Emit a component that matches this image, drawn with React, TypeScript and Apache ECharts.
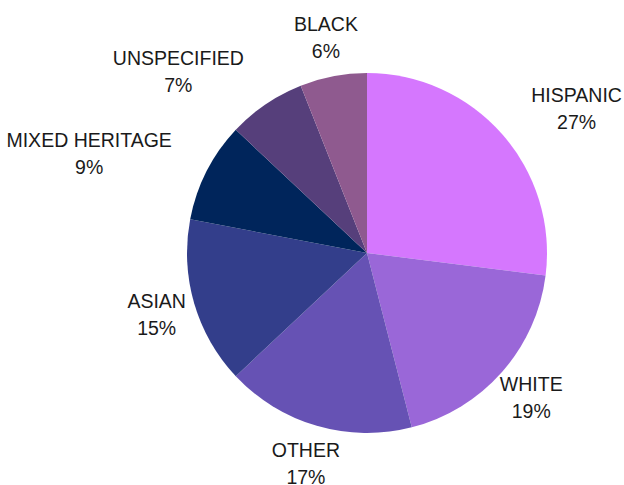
import React, { useEffect, useRef } from "react";
import * as echarts from "echarts";

const CATEGORIES = ["HISPANIC", "WHITE", "OTHER", "ASIAN", "MIXED HERITAGE", "UNSPECIFIED", "BLACK"];
const VALUES = [27, 19, 17, 15, 9, 7, 6];
const COLORS = ["#d577fe", "#9a67d8", "#6652b4", "#333e8b", "#00255b", "#563f7b", "#8f5a8f"];

const CX = 367;
const CY = 253;
const R = 180;
const LABEL_R = 219;

export default function App() {
  const ref = useRef<HTMLDivElement>(null);

  useEffect(() => {
    if (!ref.current) return;
    const chart = echarts.init(ref.current, null, { renderer: "svg" });
    const total = VALUES.reduce((a, b) => a + b, 0);

    const labelLayout = (params: any) => {
      const i = params.dataIndex;
      let cum = 0;
      for (let k = 0; k < i; k++) cum += VALUES[k];
      const mid = ((cum + VALUES[i] / 2) / total) * Math.PI * 2;
      const ax = CX + LABEL_R * Math.sin(mid);
      const ay = CY - LABEL_R * Math.cos(mid);
      const w = params.labelRect.width;
      const h = params.labelRect.height;
      const x0 = ax - w / 2, x1 = ax + w / 2, y0 = ay - h / 2, y1 = ay + h / 2;
      const nx = Math.min(Math.max(CX, x0), x1);
      const ny = Math.min(Math.max(CY, y0), y1);
      const d = Math.hypot(nx - CX, ny - CY);
      let x = ax;
      if (d < R - 5) x = ax >= CX ? ax + w / 2 : ax - w / 2;
      return { x, y: ay, align: "center", verticalAlign: "middle" };
    };

    chart.setOption({
      animation: false,
      backgroundColor: "#ffffff",
      series: [
        {
          type: "pie",
          center: [CX, CY],
          radius: R,
          startAngle: 90,
          clockwise: true,
          avoidLabelOverlap: false,
          itemStyle: { borderWidth: 0 },
          label: {
            show: true,
            position: "outside",
            formatter: "{b}\n{c}%",
            fontFamily: "Liberation Sans, Arial, sans-serif",
            fontSize: 19.5,
            lineHeight: 27,
            color: "#1a1a1a",
          },
          labelLine: { show: false },
          labelLayout,
          emphasis: { disabled: true },
          data: CATEGORIES.map((name, i) => ({
            name,
            value: VALUES[i],
            itemStyle: { color: COLORS[i] },
          })),
        },
      ],
    });
    return () => chart.dispose();
  }, []);

  return (
    <div
      ref={ref}
      style={{ position: "fixed", left: 0, top: 0, width: 624, height: 485 }}
    />
  );
}
